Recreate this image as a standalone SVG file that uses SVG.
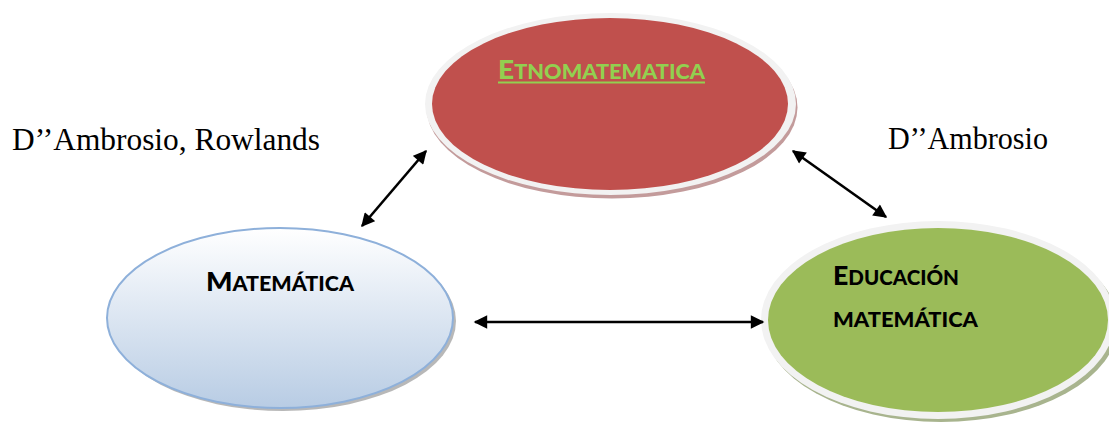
<svg xmlns="http://www.w3.org/2000/svg" width="1109" height="424" viewBox="0 0 1109 424">
  <defs>
    <linearGradient id="blueGrad" x1="0" y1="0" x2="0" y2="1">
      <stop offset="0" stop-color="#ffffff"/>
      <stop offset="1" stop-color="#b8cce4"/>
    </linearGradient>
    <marker id="ah" viewBox="0 0 10 10" refX="9" refY="5" markerWidth="5.6" markerHeight="5.2" markerUnits="strokeWidth" orient="auto-start-reverse">
      <path d="M0,0 L10,5 L0,10 Z" fill="#000"/>
    </marker>
    <style>
      .lbl { font-family: "Liberation Serif", "Times New Roman", serif; font-size: 31px; fill: #000; }
      .node { font-family: Lato, "Open Sans", "Liberation Sans", sans-serif; font-weight: 900; fill: #000; }
      .conn { stroke: #000; stroke-width: 2.6; fill: none; marker-start: url(#ah); marker-end: url(#ah); }
      .ring { fill: #f2f2f2; }
    </style>
  </defs>
  <rect width="1109" height="424" fill="#ffffff"/>

  <g id="label-left">
    <text class="lbl" x="12" y="150" textLength="308" lengthAdjust="spacingAndGlyphs">D’’Ambrosio, Rowlands</text>
  </g>
  <g id="label-right">
    <text class="lbl" x="888" y="149" textLength="160" lengthAdjust="spacingAndGlyphs">D’’Ambrosio</text>
  </g>

  <g id="node-etnomatematica">
    <ellipse cx="612" cy="107.5" rx="185.5" ry="91" fill="#c39b9b"/>
    <ellipse class="ring" cx="610.5" cy="104" rx="185.5" ry="91"/>
    <ellipse cx="610" cy="104" rx="178" ry="86" fill="#c0504d"/>
    <text class="node" x="498" y="79" style="fill:#92d050" textLength="207" lengthAdjust="spacingAndGlyphs"><tspan font-size="26">E</tspan><tspan font-size="20">TNOMATEMATICA</tspan></text>
    <rect x="498" y="81.5" width="207" height="2" fill="#92d050"/>
  </g>

  <g id="node-matematica">
    <ellipse cx="283" cy="321" rx="173" ry="90" fill="#a6a6a6" opacity="0.8"/>
    <ellipse cx="280" cy="318" rx="173" ry="90" fill="url(#blueGrad)" stroke="#8eb0da" stroke-width="2"/>
    <text class="node" x="206" y="291" textLength="148" lengthAdjust="spacingAndGlyphs"><tspan font-size="26">M</tspan><tspan font-size="20">ATEMÁTICA</tspan></text>
  </g>

  <g id="node-educacion">
    <ellipse cx="941" cy="324" rx="177" ry="98" fill="#a8b48e"/>
    <ellipse class="ring" cx="938" cy="320" rx="177" ry="99"/>
    <ellipse cx="938" cy="320" rx="170" ry="92" fill="#9bbb59"/>
    <text class="node" x="833" y="285" textLength="126" lengthAdjust="spacingAndGlyphs"><tspan font-size="26">E</tspan><tspan font-size="20">DUCACIÓN</tspan></text>
    <text class="node" x="833" y="327" font-size="20" textLength="145" lengthAdjust="spacingAndGlyphs">MATEMÁTICA</text>
  </g>

  <g id="connectors">
    <line class="conn" x1="362" y1="226" x2="426" y2="151"/>
    <line class="conn" x1="793" y1="151" x2="886" y2="217"/>
    <line class="conn" x1="475" y1="322" x2="763" y2="322"/>
  </g>
</svg>
